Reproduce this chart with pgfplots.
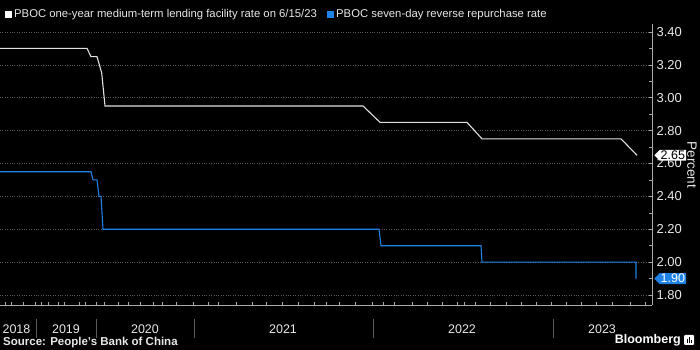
\documentclass[border=0pt]{standalone}
\usepackage{fontspec}
\setmainfont{Liberation Sans}
\usepackage{pgfplots}
\pgfplotsset{compat=1.18}
\usetikzlibrary{shapes.symbols}
\definecolor{bbblue}{RGB}{30,130,230}
\definecolor{txtgray}{RGB}{232,232,232}
\definecolor{gridgray}{RGB}{90,90,90}
\definecolor{axgray}{RGB}{170,170,170}
\begin{document}
\begin{tikzpicture}
\fill[black] (0,0) rectangle (700pt,350pt);
\useasboundingbox (0,0) rectangle (700pt,350pt);
\begin{axis}[
  at={(0pt,45pt)}, anchor=south west,
  scale only axis, width=652pt, height=281pt,
  xmin=0, xmax=652, ymin=1.7394, ymax=3.4485,
  axis x line*=bottom, axis y line*=right,
  axis line style={axgray,-, line width=0.8pt},
  clip=false,
  tick align=inside,
  major tick length=3pt, minor tick length=3pt,
  tick style={axgray, line width=0.6pt},
  xtick={5.3,11.7,23.3,35.3,41.3,48.7,58.7,64.3,79.3,85.3,96.3,104.3,118.3,128.3,140.3,153.3,162.3,176.3,193.3,208.3,218.3,236.3,252.3,266.3,282.3,298.3,314.3,326.3,339.3,355.3,372.3,383.3,394.3,412.3,427.3,442.3,457.3,464,475.7,490.7,506.7,521.7,536.7,551.7,566,581.7,596.7,612.7,630,645.7},
  xticklabels={},
  ytick={1.8,2.0,...,3.41},
  minor y tick num=1,
  ymajorgrids,
  major grid style={gridgray, dotted, line width=0.6pt},
  yticklabel style={txtgray, font=\fontsize{13}{15}\selectfont, xshift=1pt},
  /pgf/number format/assume math mode=true,
  yticklabel={\pgfmathprintnumber[fixed,fixed zerofill,precision=2]{\tick}},
]
\addplot[color=white!88!black, line width=1.1pt] coordinates {
 (0,3.30) (87,3.30) (91,3.25) (97,3.25) (101.7,3.15) (105,2.95) (363,2.95) (380,2.85) (467,2.85) (482,2.75) (621,2.75) (637,2.65)
};
\addplot[color=bbblue, line width=1.1pt] coordinates {
 (0,2.55) (91,2.55) (93,2.50) (97,2.50) (99,2.40) (101,2.40) (103,2.20) (379,2.20) (381,2.10) (481,2.10) (482,2.00) (636,2.00) (636,1.90)
};
\node[signal, signal to=west, signal from=nowhere, fill=white, text=black, inner sep=1pt, font=\fontsize{12.5}{14}\selectfont, anchor=west] at (axis cs:654,2.65) {2.65};
\node[signal, signal to=west, signal from=nowhere, fill=bbblue, text=white, inner sep=1pt, font=\fontsize{12.5}{14}\selectfont, anchor=west] at (axis cs:654,1.90) {1.90};
\end{axis}
% legend
\fill[white] (5pt,332pt) rectangle (12pt,339pt);
\node[anchor=west, inner sep=0pt, text=txtgray, font=\fontsize{11.3}{13}\selectfont] at (14pt,335.5pt) {PBOC one-year medium-term lending facility rate on 6/15/23};
\fill[bbblue] (327pt,332pt) rectangle (334pt,339pt);
\node[anchor=west, inner sep=0pt, text=txtgray, font=\fontsize{11.3}{13}\selectfont] at (336pt,335.5pt) {PBOC seven-day reverse repurchase rate};
% y label
\node[rotate=-90, text=txtgray, font=\fontsize{13.5}{15}\selectfont] at (692pt,185pt) {Percent};
% year labels
\foreach \xx in {36,96,194,373,553} {
  \draw[gridgray, line width=0.8pt] (\xx pt,12pt) -- (\xx pt,31pt);
}
\foreach \xx/\yy in {16.5/2018,66/2019,145/2020,283/2021,462/2022,602/2023} {
  \node[text=txtgray, font=\fontsize{12.5}{14}\selectfont] at (\xx pt,21pt) {\yy};
}
% source
\node[anchor=west, inner sep=0pt, text=txtgray, font=\bfseries\fontsize{11.5}{13}\selectfont] at (3pt,7pt) {Source: People's Bank of China};
\node[anchor=east, inner sep=0pt, text=white, font=\bfseries\fontsize{12.5}{14}\selectfont] at (681pt,10pt) {Bloomberg};
\fill[white, rounded corners=1pt] (684pt,5pt) rectangle (694pt,15pt);
\fill[black] (686.5pt,7pt) rectangle (687.5pt,11pt);
\fill[black] (688.5pt,7pt) rectangle (689.5pt,13pt);
\fill[black] (690.5pt,7pt) rectangle (691.5pt,10pt);
\end{tikzpicture}
\end{document}
